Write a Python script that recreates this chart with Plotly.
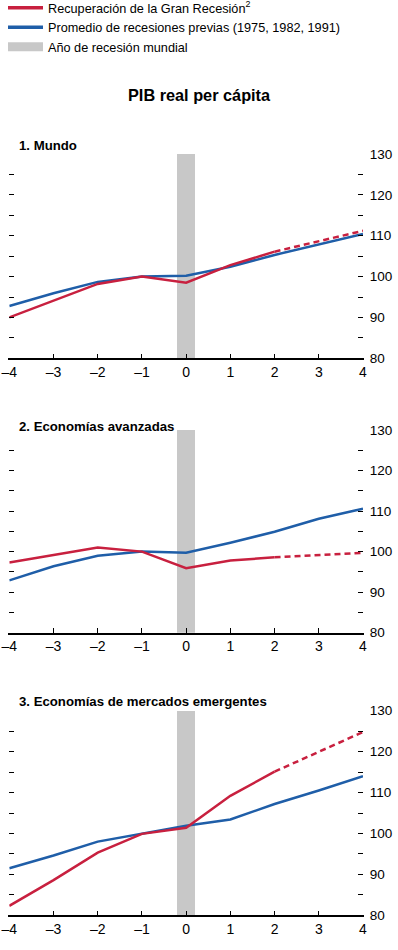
import plotly.graph_objects as go

# ---------------- data ----------------
years = [-4, -3, -2, -1, 0, 1, 2, 3, 4]
x_tick_text = ["–4", "–3", "–2", "–1", "0", "1", "2", "3", "4"]
y_tick_vals = [80, 85, 90, 95, 100, 105, 110, 115, 120, 125, 130]
y_tick_text = ["80", " ", "90", " ", "100", " ", "110", " ", "120", " ", "130"]

panel_titles = ["1. Mundo", "2. Economías avanzadas", "3. Economías de mercados emergentes"]

# Recuperación de la Gran Recesión (solid up to year 2, dashed projection 2-4)
red_mundo = [90.0, 94.1, 98.2, 100.0, 98.5, 102.8, 106.1, 108.6, 111.2]
red_avanz = [97.3, 99.2, 101.0, 100.0, 95.9, 97.8, 98.6, 99.1, 99.7]
red_emerg = [82.3, 88.6, 95.3, 99.9, 101.4, 109.2, 115.1, 120.0, 124.8]

# Promedio de recesiones previas (1975, 1982, 1991)
blue_mundo = [92.8, 95.9, 98.7, 100.0, 100.2, 102.4, 105.3, 107.9, 110.4]
blue_avanz = [92.9, 96.4, 99.0, 100.0, 99.7, 102.2, 104.9, 108.1, 110.6]
blue_emerg = [91.5, 94.6, 98.0, 100.0, 101.9, 103.4, 107.2, 110.5, 114.0]

recession_year = [0]
recession_low = 80
recession_high = 130

red_series = [red_mundo, red_avanz, red_emerg]
blue_series = [blue_mundo, blue_avanz, blue_emerg]
split_index = 6  # year 2: end of actual data, start of projection

names = ["Recuperación de la Gran Recesión<sup>2</sup>",
         "Promedio de recesiones previas (1975, 1982, 1991)",
         "Año de recesión mundial"]

# ---------------- style ----------------
RED = "#c8203f"
BLUE = "#1f5ea8"
GRAY = "#c8c8c8"
FONT = "Liberation Sans Narrow, Arial Narrow, Liberation Sans, Arial, sans-serif"
H = 950
W = 398

# pixel layout of each panel (top, bottom)
panel_px = [(154, 358.3), (430, 632.7), (710.7, 915.3)]
title_px = [146, 426, 701]
x_left, x_right = 9.3, 363

fig = go.Figure()

# legend-only entries (order)
fig.add_trace(go.Scatter(x=[None], y=[None], mode="lines", name=names[0],
                         line=dict(color=RED, width=3.5), showlegend=True))
fig.add_trace(go.Scatter(x=[None], y=[None], mode="lines", name=names[1],
                         line=dict(color=BLUE, width=3.5), showlegend=True))
fig.add_trace(go.Scatter(x=[None], y=[None], mode="lines", name=names[2],
                         line=dict(color=GRAY, width=9), showlegend=True))

for i in range(3):
    xa = "x" if i == 0 else f"x{i+1}"
    ya = "y" if i == 0 else f"y{i+1}"
    fig.add_trace(go.Bar(x=recession_year, y=[recession_high - recession_low],
                         base=[recession_low], width=0.4, marker=dict(color=GRAY, line=dict(width=0)),
                         xaxis=xa, yaxis=ya, showlegend=False, hoverinfo="skip"))
    fig.add_trace(go.Scatter(x=years, y=blue_series[i], mode="lines",
                             line=dict(color=BLUE, width=2.5), xaxis=xa, yaxis=ya,
                             showlegend=False))
    fig.add_trace(go.Scatter(x=years[:split_index + 1], y=red_series[i][:split_index + 1], mode="lines",
                             line=dict(color=RED, width=2.5), xaxis=xa, yaxis=ya,
                             showlegend=False))
    fig.add_trace(go.Scatter(x=years[split_index:], y=red_series[i][split_index:], mode="lines",
                             line=dict(color=RED, width=2.5, dash="6px,4px"), xaxis=xa, yaxis=ya,
                             showlegend=False))

    top, bot = panel_px[i]
    xkey = "xaxis" if i == 0 else f"xaxis{i+1}"
    ykey = "yaxis" if i == 0 else f"yaxis{i+1}"
    fig.update_layout({
        xkey: dict(domain=[x_left / W, x_right / W], anchor=ya, range=[-4, 4],
                   tickvals=years, ticktext=x_tick_text, ticks="inside", ticklen=5,
                   tickcolor="black", tickwidth=1.2, showline=True, linecolor="black",
                   linewidth=1.5, showgrid=False, zeroline=False, automargin=False,
                   tickfont=dict(family=FONT, size=14, color="black")),
        ykey: dict(domain=[1 - bot / H, 1 - top / H], anchor=xa, range=[80, 130],
                   side="right", tickvals=y_tick_vals, ticktext=y_tick_text,
                   ticks="inside", ticklen=5, tickcolor="black", tickwidth=1.2,
                   mirror="ticks", showline=True, linecolor="rgba(0,0,0,0)",
                   showgrid=False, zeroline=False, automargin=False,
                   ticklabelstandoff=3,
                   tickfont=dict(family=FONT, size=13.5, color="black")),
    })
    fig.add_annotation(text=f"<b>{panel_titles[i]}</b>", xref="paper", yref="paper",
                       x=17 / W, y=1 - title_px[i] / H, xanchor="left", yanchor="middle",
                       showarrow=False, font=dict(family=FONT, size=13.2, color="black"))

fig.add_annotation(text="<b>PIB real per cápita</b>", xref="paper", yref="paper",
                   x=0.5, y=1 - 95 / H, xanchor="center", yanchor="middle", showarrow=False,
                   font=dict(family=FONT, size=16.3, color="black"))

fig.update_layout(
    width=W, height=H, margin=dict(l=0, r=0, t=0, b=0, autoexpand=False),
    paper_bgcolor="white", plot_bgcolor="white",
    bargap=0,
    legend=dict(x=3 / W, y=1 + 7 / H, xanchor="left", yanchor="top", traceorder="normal",
                font=dict(family=FONT, size=12.7, color="black"), tracegroupgap=0,
                bgcolor="rgba(0,0,0,0)", itemwidth=35),
    showlegend=True,
)

fig.write_html("out.html", config={"displayModeBar": False},
               post_script="document.body.style.margin='0';")
